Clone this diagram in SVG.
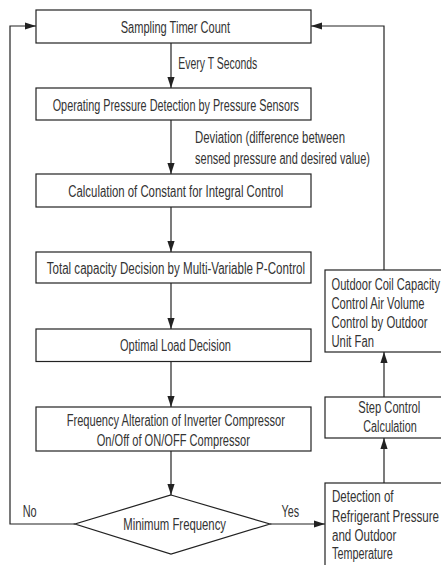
<svg xmlns="http://www.w3.org/2000/svg" width="441" height="565" viewBox="0 0 441 565">
<style>
.box{fill:#fff;stroke:#222;stroke-width:1.2}
.t{font-family:"Liberation Sans",Arial,sans-serif;font-size:16px;fill:#333}
.c{fill:none;stroke:#222;stroke-width:1.2}
</style>
<defs>
<marker id="ah" markerUnits="userSpaceOnUse" markerWidth="12" markerHeight="8" refX="11" refY="4" orient="auto">
<path d="M0,0.4 L11,4 L0,7.6 Z" fill="#222"/>
</marker>
</defs>
<rect width="441" height="565" fill="#fff"/>
<g id="connectors">
<path class="c" d="M171 43 V88" marker-end="url(#ah)"/>
<path class="c" d="M171 120 V174" marker-end="url(#ah)"/>
<path class="c" d="M171 207 V252" marker-end="url(#ah)"/>
<path class="c" d="M171 283 V329" marker-end="url(#ah)"/>
<path class="c" d="M171 361.5 V407" marker-end="url(#ah)"/>
<path class="c" d="M171 451 V495" marker-end="url(#ah)"/>
<path class="c" d="M75 524 H10 V26 H36" marker-end="url(#ah)"/>
<path class="c" d="M270 524 H325" marker-end="url(#ah)"/>
<path class="c" d="M384 483 V438" marker-end="url(#ah)"/>
<path class="c" d="M384 397 V352" marker-end="url(#ah)"/>
<path class="c" d="M384 270 V26 H311" marker-end="url(#ah)"/>
<text class="t" x="178.3" y="68.5" textLength="79" lengthAdjust="spacingAndGlyphs">Every T Seconds</text>
<text class="t" x="195" y="143" textLength="150" lengthAdjust="spacingAndGlyphs">Deviation (difference between</text>
<text class="t" x="195" y="163.5" textLength="175" lengthAdjust="spacingAndGlyphs">sensed pressure and desired value)</text>
<text class="t" x="22.7" y="517" textLength="14" lengthAdjust="spacingAndGlyphs">No</text>
<text class="t" x="281.5" y="517" textLength="17.5" lengthAdjust="spacingAndGlyphs">Yes</text>
</g>
<g id="n1">
<rect class="box" x="36" y="10" width="275" height="33"/>
<text class="t" x="120.7" y="32.5" textLength="109.3" lengthAdjust="spacingAndGlyphs">Sampling Timer Count</text>
</g>
<g id="n2">
<rect class="box" x="36" y="88" width="275" height="32"/>
<text class="t" x="52.7" y="110.5" textLength="246.3" lengthAdjust="spacingAndGlyphs">Operating Pressure Detection by Pressure Sensors</text>
</g>
<g id="n3">
<rect class="box" x="36" y="174" width="275" height="33"/>
<text class="t" x="68.3" y="196.5" textLength="215" lengthAdjust="spacingAndGlyphs">Calculation of Constant for Integral Control</text>
</g>
<g id="n4">
<rect class="box" x="36" y="252" width="275" height="31"/>
<text class="t" x="46.7" y="274" textLength="258.3" lengthAdjust="spacingAndGlyphs">Total capacity Decision by Multi-Variable P-Control</text>
</g>
<g id="n5">
<rect class="box" x="36" y="329" width="275" height="32.5"/>
<text class="t" x="120" y="351" textLength="111" lengthAdjust="spacingAndGlyphs">Optimal Load Decision</text>
</g>
<g id="n6">
<rect class="box" x="36" y="407" width="275" height="44"/>
<text class="t" x="66.7" y="426" textLength="218.3" lengthAdjust="spacingAndGlyphs">Frequency Alteration of Inverter Compressor</text>
<text class="t" x="96.7" y="446" textLength="153.3" lengthAdjust="spacingAndGlyphs">On/Off of ON/OFF Compressor</text>
</g>
<g id="n7">
<polygon class="box" points="171,495 270,524 171,554 75,524"/>
<text class="t" x="123.3" y="530" textLength="102.7" lengthAdjust="spacingAndGlyphs">Minimum Frequency</text>
</g>
<g id="n8">
<rect class="box" x="325" y="483" width="130" height="100"/>
<text class="t" x="332" y="502" textLength="61.5" lengthAdjust="spacingAndGlyphs">Detection of</text>
<text class="t" x="332" y="521.5" textLength="107" lengthAdjust="spacingAndGlyphs">Refrigerant Pressure</text>
<text class="t" x="332" y="540.5" textLength="64.3" lengthAdjust="spacingAndGlyphs">and Outdoor</text>
<text class="t" x="332" y="559" textLength="60.7" lengthAdjust="spacingAndGlyphs">Temperature</text>
</g>
<g id="n9">
<rect class="box" x="325" y="397" width="128" height="41"/>
<text class="t" x="358.3" y="413" textLength="62" lengthAdjust="spacingAndGlyphs">Step Control</text>
<text class="t" x="363.3" y="432" textLength="53.5" lengthAdjust="spacingAndGlyphs">Calculation</text>
</g>
<g id="n10">
<rect class="box" x="325" y="270" width="130" height="82"/>
<text class="t" x="331.5" y="289.5" textLength="108.5" lengthAdjust="spacingAndGlyphs">Outdoor Coil Capacity</text>
<text class="t" x="331.5" y="308.5" textLength="93" lengthAdjust="spacingAndGlyphs">Control Air Volume</text>
<text class="t" x="331.5" y="327.5" textLength="96" lengthAdjust="spacingAndGlyphs">Control by Outdoor</text>
<text class="t" x="331.5" y="346.5" textLength="42.5" lengthAdjust="spacingAndGlyphs">Unit Fan</text>
</g>
</svg>
